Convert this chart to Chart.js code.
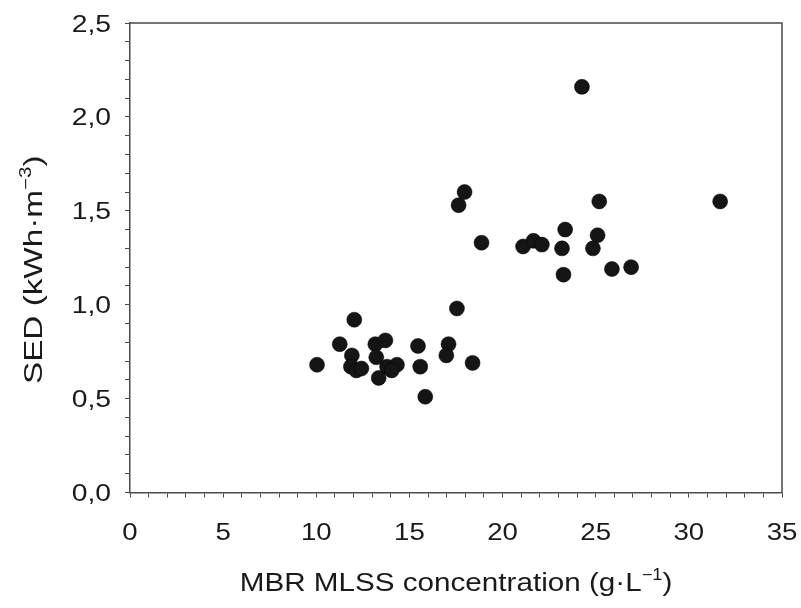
<!DOCTYPE html>
<html>
<head>
<meta charset="utf-8">
<script src="https://cdn.jsdelivr.net/npm/chart.js@4.4.1/dist/chart.umd.min.js"></script>
<style>
  html, body { margin: 0; padding: 0; background: #fff; }
  #wrap { width: 801px; height: 608px; }
</style>
</head>
<body>
<div id="wrap"><canvas id="c" width="801" height="608"></canvas></div>
<script>
// valores: MLSS (g/L) y SED (kWh/m3)
const mlss = [10.04, 11.26, 12.04, 11.91, 11.86, 12.15, 12.42, 13.17, 13.71, 13.22,
  13.35, 13.80, 14.33, 14.05, 15.46, 15.58, 15.85, 17.55, 17.10, 16.98,
  18.39, 17.96, 17.64, 18.87, 21.10, 21.66, 22.11, 23.36, 23.19, 23.27,
  24.26, 25.19, 25.10, 24.85, 25.87, 26.90, 31.68];
const sed = [0.68, 0.79, 0.92, 0.73, 0.67, 0.65, 0.66, 0.79, 0.81, 0.72,
  0.61, 0.67, 0.68, 0.65, 0.78, 0.67, 0.51, 0.98, 0.79, 0.73,
  0.69, 1.60, 1.53, 1.33, 1.31, 1.34, 1.32, 1.40, 1.30, 1.16,
  2.16, 1.55, 1.37, 1.30, 1.19, 1.20, 1.55];

const xTickValues = [0, 5, 10, 15, 20, 25, 30, 35];
const xTickLabels = ['0', '5', '10', '15', '20', '25', '30', '35'];
const yTickValues = [0, 0.5, 1.0, 1.5, 2.0, 2.5];
const yTickLabels = ['0,0', '0,5', '1,0', '1,5', '2,0', '2,5'];

const xTitle = [['MBR MLSS concentration (g\u00B7L', false], ['\u22121', true], [')', false]];
const yTitle = [['SED (kWh\u00B7m', false], ['\u22123', true], [')', false]];

const FONT = '"Liberation Sans", Arial, sans-serif';
const AXIS = '#4a4a4a';
const TEXT = '#1a1a1a';

// texto estirado en horizontal (el original tiene la fuente algo ancha)
function drawText(ctx, parts, cx, cy, rot, size, sx, align) {
  ctx.save();
  ctx.translate(cx, cy);
  ctx.rotate(rot);
  ctx.scale(sx, 1);
  ctx.fillStyle = TEXT;
  ctx.textBaseline = 'alphabetic';
  ctx.textAlign = 'left';
  let w = 0;
  parts.forEach(p => {
    ctx.font = (p[1] ? Math.round(size * 0.62) : size) + 'px ' + FONT;
    w += ctx.measureText(p[0]).width;
  });
  let x = align === 'right' ? -w : -w / 2;
  parts.forEach(p => {
    ctx.font = (p[1] ? Math.round(size * 0.62) : size) + 'px ' + FONT;
    ctx.fillText(p[0], x, p[1] ? -size * 0.42 : 0);
    x += ctx.measureText(p[0]).width;
  });
  ctx.restore();
}

const framePlugin = {
  id: 'frame',
  afterDraw(chart) {
    const ctx = chart.ctx;
    const a = chart.chartArea;
    const xs = chart.scales.x;
    const ys = chart.scales.y;
    ctx.save();
    ctx.strokeStyle = AXIS;
    ctx.lineWidth = 1.5;
    ctx.beginPath();
    ctx.moveTo(a.left, a.top);
    ctx.lineTo(a.right, a.top);
    ctx.lineTo(a.right, a.bottom);
    ctx.stroke();
    ctx.restore();
    xTickValues.forEach((v, i) => {
      drawText(ctx, [[xTickLabels[i], false]], xs.getPixelForValue(v), a.bottom + 47.5, 0, 24, 1.15, 'center');
    });
    yTickValues.forEach((v, i) => {
      drawText(ctx, [[yTickLabels[i], false]], a.left - 19, ys.getPixelForValue(v) + 8.5, 0, 24, 1.18, 'right');
    });
    drawText(ctx, xTitle, (a.left + a.right) / 2, a.bottom + 98.5, 0, 26, 1.14, 'center');
    drawText(ctx, yTitle, a.left - 88, (a.top + a.bottom) / 2 + 12, -Math.PI / 2, 26, 1.28, 'center');
  }
};

new Chart(document.getElementById('c'), {
  type: 'scatter',
  data: {
    datasets: [{
      data: mlss.map((x, i) => ({ x: x, y: sed[i] })),
      backgroundColor: '#151515',
      borderColor: '#000',
      borderWidth: 0.5,
      pointRadius: 7.5,
      pointHoverRadius: 7.5
    }]
  },
  options: {
    responsive: false,
    animation: false,
    devicePixelRatio: 1,
    layout: { padding: { top: 23, right: 19, left: 0, bottom: 0 } },
    plugins: { legend: { display: false }, tooltip: { enabled: false } },
    scales: {
      x: {
        type: 'linear',
        min: 0, max: 35,
        afterFit: s => { s.height = 115.5; },
        ticks: { stepSize: 1, autoSkip: false, display: false },
        grid: { drawOnChartArea: false, drawTicks: true, tickLength: 5, color: AXIS, lineWidth: 1 },
        border: { display: true, color: AXIS, width: 1.5 }
      },
      y: {
        type: 'linear',
        min: 0, max: 2.5,
        afterFit: s => { s.width = 130; },
        ticks: { stepSize: 0.1, autoSkip: false, display: false },
        grid: { drawOnChartArea: false, drawTicks: true, tickLength: 5, color: AXIS, lineWidth: 1 },
        border: { display: true, color: AXIS, width: 1.5 }
      }
    }
  },
  plugins: [framePlugin]
});
</script>
</body>
</html>
